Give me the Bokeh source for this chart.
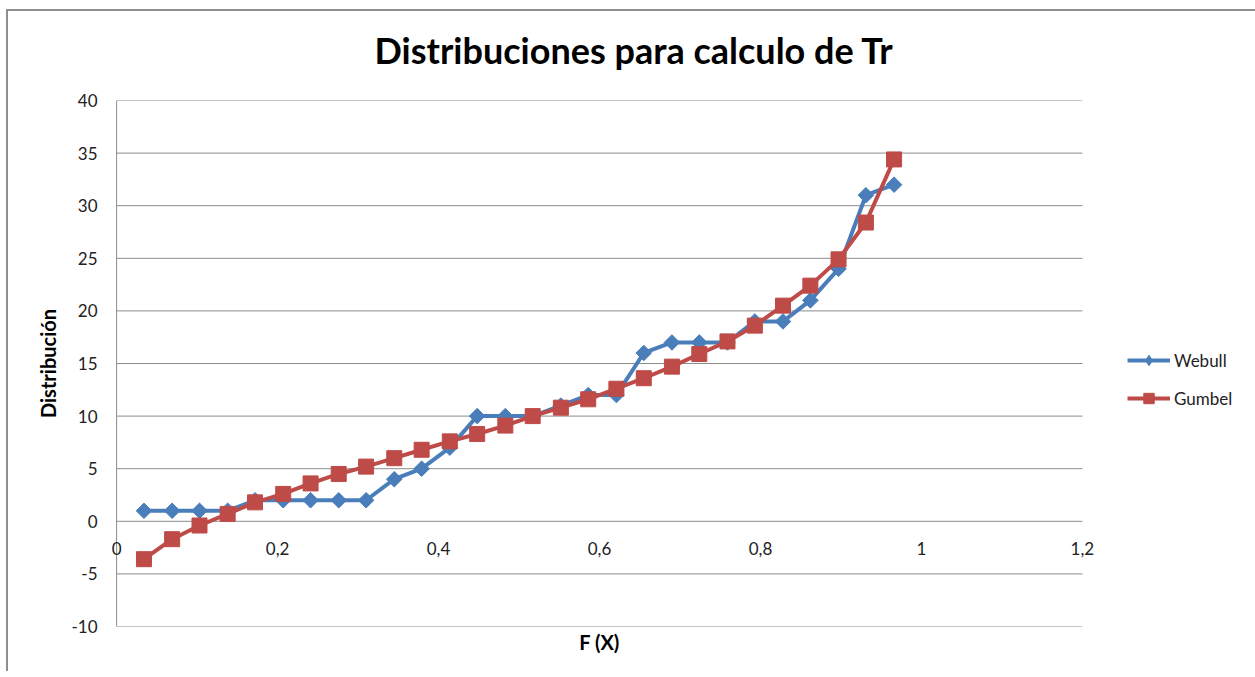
from bokeh.plotting import figure
from bokeh.models import (FixedTicker, CustomJSTickFormatter, Legend, LegendItem,
                          Title, Range1d)
from bokeh.embed import file_html
from bokeh.resources import INLINE
import math

# ---- data ----
f_x = [0.034, 0.069, 0.103, 0.138, 0.172, 0.207, 0.241, 0.276, 0.310, 0.345,
       0.379, 0.414, 0.448, 0.483, 0.517, 0.552, 0.586, 0.621, 0.655, 0.690,
       0.724, 0.759, 0.793, 0.828, 0.862, 0.897, 0.931, 0.966]
webull = [1, 1, 1, 1, 2, 2, 2, 2, 2, 4, 5, 7, 10, 10, 10, 11, 12, 12, 16, 17,
          17, 17, 19, 19, 21, 24, 31, 32]
gumbel = [-3.6, -1.7, -0.4, 0.7, 1.8, 2.6, 3.6, 4.5, 5.2, 6.0, 6.8, 7.6, 8.3,
          9.1, 10.0, 10.8, 11.6, 12.6, 13.6, 14.7, 15.9, 17.1, 18.6, 20.5,
          22.4, 24.9, 28.4, 34.4]
x_ticks = [0, 0.2, 0.4, 0.6, 0.8, 1.0, 1.2]
y_ticks = [-10, -5, 0, 5, 10, 15, 20, 25, 30, 35, 40]
series_names = ["Webull", "Gumbel"]
title_text = "Distribuciones para calculo de Tr"
x_title = "F (X)"
y_title = "Distribución"

FONT = "Lato"
BLUE = "#4A7EBB"
RED = "#BE4B48"
GRID = "#8C8C8C"
TXT = "#222222"

p = figure(frame_width=998, frame_height=526, output_backend="svg",
           toolbar_location=None,
           x_range=Range1d(-0.02, 1.22), y_range=Range1d(-10, 40),
           min_border_left=92, min_border_right=150, min_border_top=89,
           min_border_bottom=45)
p.styles = {"border-left": "2px solid #8f8f8f", "border-top": "2px solid #8f8f8f",
            "margin-left": "6px", "margin-top": "9px"}
p.outline_line_color = None
p.background_fill_color = "white"
p.border_fill_color = "white"
p.xgrid.visible = False
p.ygrid.visible = False

# gridlines and y-axis line, drawn through the data scales
p.segment(x0=x_ticks[0], x1=x_ticks[-1], y0=y_ticks, y1=y_ticks,
          line_color=GRID, line_width=1)
p.segment(x0=x_ticks[0], x1=x_ticks[0], y0=y_ticks[0], y1=y_ticks[-1],
          line_color=GRID, line_width=1)

# x axis labels at y = 0
xa = p.xaxis[0]
xa.ticker = FixedTicker(ticks=x_ticks)
xa.formatter = CustomJSTickFormatter(
    code="var s = tick.toFixed(1).replace('.', ','); return s.endsWith(',0') ? s.slice(0, -2) : s;")
xa.fixed_location = 0
xa.axis_line_color = None
xa.major_tick_line_color = None
xa.minor_tick_line_color = None
xa.major_label_standoff = 15
xa.major_label_text_font = FONT
xa.major_label_text_font_size = "17px"
xa.major_label_text_color = TXT

ya = p.yaxis[0]
ya.ticker = FixedTicker(ticks=y_ticks)
ya.formatter = CustomJSTickFormatter(code="return tick.toString();")
ya.axis_line_color = None
ya.major_tick_line_color = None
ya.minor_tick_line_color = None
ya.major_tick_out = 0
ya.major_label_standoff = 3
ya.major_label_text_font = FONT
ya.major_label_text_font_size = "17px"
ya.major_label_text_color = TXT
ya.axis_label = y_title
ya.axis_label_text_font = FONT
ya.axis_label_text_font_style = "bold"
ya.axis_label_text_font_size = "20px"
ya.axis_label_text_color = "black"
ya.axis_label_standoff = 8

# series
r1l = p.line(f_x, webull, line_color=BLUE, line_width=4)
# diamond symbol used for the legend key (hidden beneath the plotted markers)
r1k = p.scatter(f_x, webull, marker="diamond", size=10,
                fill_color=BLUE, line_color=BLUE)
r1s = p.scatter(f_x, webull, marker="square", angle=math.pi / 4, size=11,
                fill_color=BLUE, line_color=BLUE)
r2l = p.line(f_x, gumbel, line_color=RED, line_width=4)
r2s = p.scatter(f_x, gumbel, marker="square", size=15,
                fill_color=RED, line_color=RED)

# titles: a tiny spacer title next to the frame pushes the main title up
p.add_layout(Title(text=" ", text_font=FONT, text_font_size="1px", standoff=26,
                   text_color="white"), "above")
p.add_layout(Title(text=title_text, align="left", offset=274, standoff=0,
                   text_font=FONT, text_font_style="bold", text_font_size="36px",
                   text_color="black"), "above")
p.add_layout(Title(text=x_title, align="center", standoff=3,
                   text_font=FONT, text_font_style="bold", text_font_size="20px",
                   text_color="black"), "below")

legend = Legend(items=[LegendItem(label=series_names[0], renderers=[r1l, r1k]),
                       LegendItem(label=series_names[1], renderers=[r2l, r2s])],
                location=(29, 215), orientation="vertical")
legend.glyph_width = 43
legend.glyph_height = 26
legend.label_height = 20
legend.label_standoff = 4
legend.spacing = 12
legend.padding = 0
legend.margin = 0
legend.border_line_color = None
legend.background_fill_alpha = 0
legend.label_text_font = FONT
legend.label_text_font_size = "17px"
legend.label_text_color = TXT
p.add_layout(legend, "right")

open("out.html", "w").write(file_html(p, INLINE))
